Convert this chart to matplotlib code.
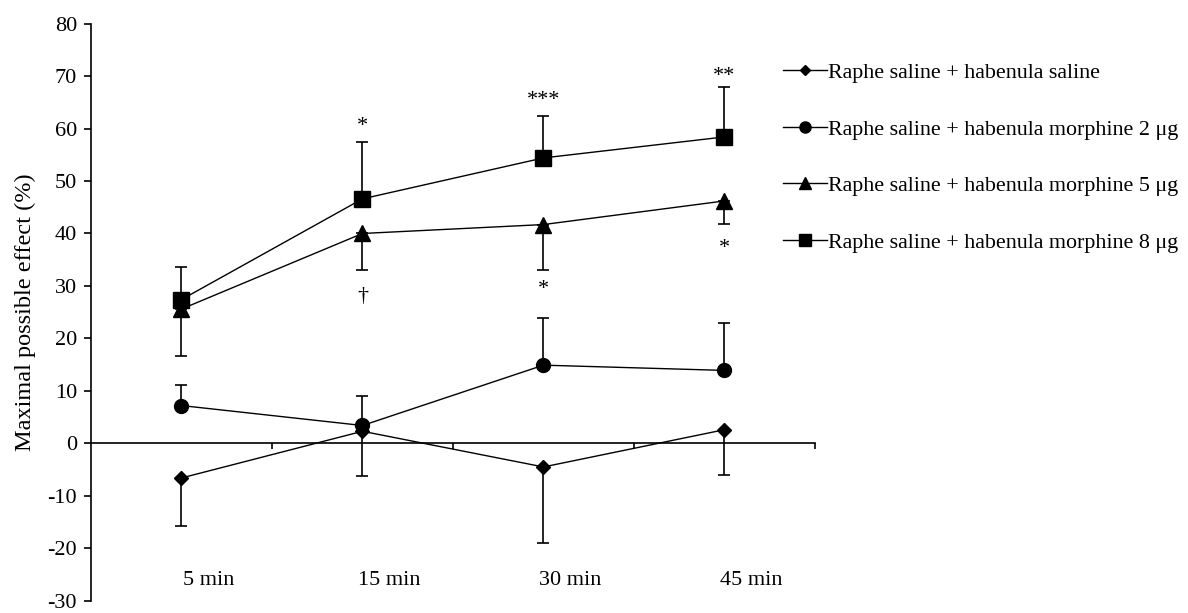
import matplotlib
matplotlib.use("Agg")
import matplotlib.pyplot as plt
from matplotlib.lines import Line2D
import numpy as np

plt.rcParams['font.family'] = ['Liberation Serif', 'DejaVu Serif']
plt.rcParams['axes.unicode_minus'] = False

categories = ["5 min", "15 min", "30 min", "45 min"]
series_names = [
    "Raphe saline + habenula saline",
    "Raphe saline + habenula morphine 2 \u03bcg",
    "Raphe saline + habenula morphine 5 \u03bcg",
    "Raphe saline + habenula morphine 8 \u03bcg",
]
saline_mean = [-6.6, 2.3, -4.5, 2.6]
saline_err_down = [9.1, 8.5, 14.4, 8.7]
morph2_mean = [7.2, 3.4, 14.9, 13.9]
morph2_err_up = [3.9, 5.7, 8.9, 9.0]
morph5_mean = [25.6, 40.0, 41.7, 46.2]
morph5_err_down = [8.9, 7.0, 8.7, 4.3]
morph8_mean = [27.4, 46.6, 54.4, 58.4]
morph8_err_up = [6.2, 10.8, 8.0, 9.6]

# significance marks: (category index, y, text)
sig_x = [1, 1, 2, 2, 3, 3]
sig_y = [61.2, 28.0, 66.2, 30.1, 70.8, 38.0]
sig_text = ["*", "\u2020", "***", "*", "**", "*"]

markers = ['D', 'o', '^', 's']
msizes = [7, 10, 11, 11]

fig = plt.figure(figsize=(11.88, 6.13), dpi=100)
ax = fig.add_axes([0.0766, 0.020, 0.6094, 0.9415])

x = np.arange(len(categories))
common = dict(color='black', lw=1.0, ecolor='black', elinewidth=1.2, capsize=4.3, capthick=1.2)

z = np.zeros(len(x))
ax.errorbar(x, saline_mean, yerr=[saline_err_down, z], marker=markers[0], ms=msizes[0], **common)
ax.errorbar(x, morph2_mean, yerr=[z, morph2_err_up], marker=markers[1], ms=msizes[1], **common)
ax.errorbar(x, morph5_mean, yerr=[morph5_err_down, z], marker=markers[2], ms=msizes[2], **common)
ax.errorbar(x, morph8_mean, yerr=[z, morph8_err_up], marker=markers[3], ms=msizes[3], **common)

for sx, sy, st in zip(sig_x, sig_y, sig_text):
    off = -0.8 if st.startswith("*") else 0.0
    ax.text(sx, sy + off, st, ha='center', va='center', fontsize=16, color='black')

ax.set_xlim(-0.5, 3.5)
ax.set_ylim(-30, 80)
ax.set_yticks(np.arange(-30, 81, 10))
ax.tick_params(axis='y', direction='out', length=5, width=1.2, labelsize=16, pad=5)
ax.spines['top'].set_visible(False)
ax.spines['right'].set_visible(False)
ax.spines['left'].set_linewidth(1.2)
ax.spines['bottom'].set_position(('data', 0))
ax.spines['bottom'].set_linewidth(1.2)
ax.set_xticks([0.5, 1.5, 2.5, 3.5])
ax.set_xticklabels([])
ax.tick_params(axis='x', direction='out', length=4, width=1.2)

for i, c in enumerate(categories):
    ax.text(i + 0.15, -26.2, c, ha='center', va='center', fontsize=16)

ax.set_ylabel("Maximal possible effect (%)", fontsize=17.5, labelpad=8)

handles = [Line2D([], [], color='black', lw=1.0, marker=m, ms=s * 0.8)
           for m, s in zip(markers, msizes)]
leg = fig.legend(handles, series_names, loc='upper left', bbox_to_anchor=(0.6427, 0.93),
                 frameon=False, fontsize=15.8, handlelength=2.0, handletextpad=0.05,
                 labelspacing=1.65)

fig.savefig("out.png", dpi=100)
